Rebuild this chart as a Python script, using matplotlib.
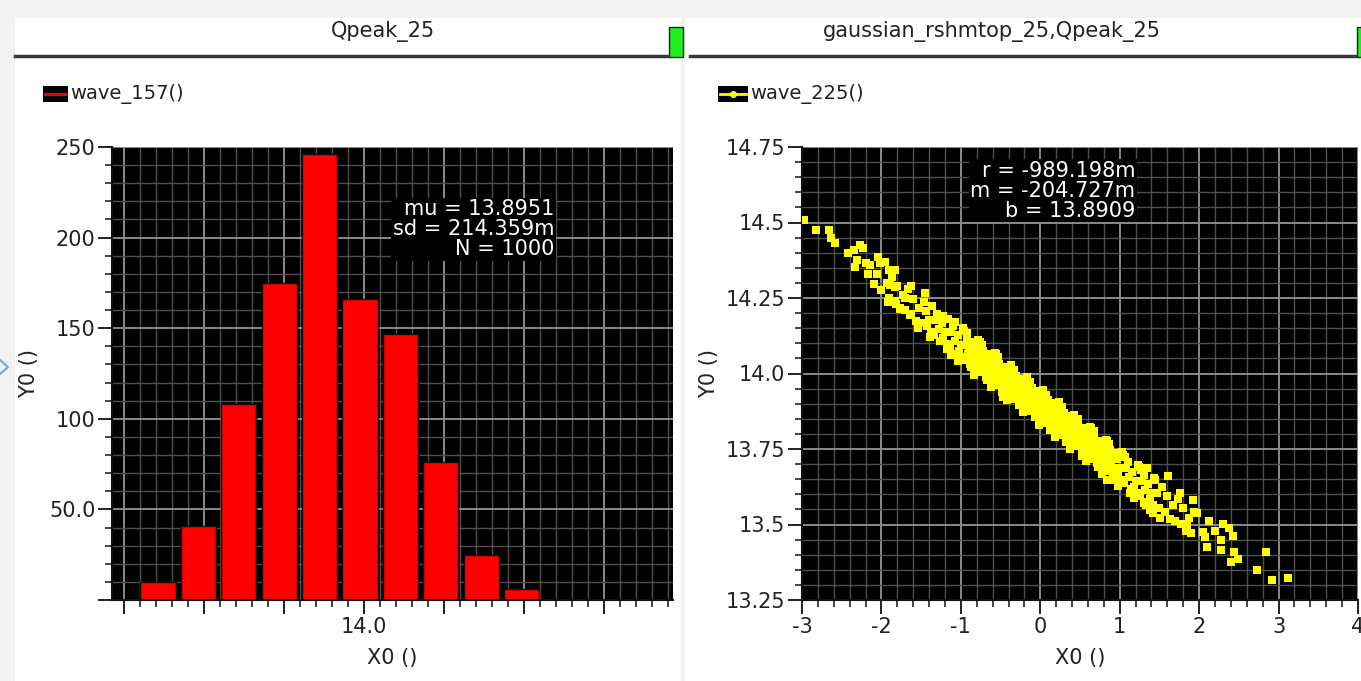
import matplotlib
matplotlib.use('Agg')
import matplotlib.pyplot as plt
from matplotlib.patches import Rectangle
from matplotlib.lines import Line2D
from matplotlib.ticker import MultipleLocator, FixedLocator

# histogram data (left panel)
hist_centers = [13.485, 13.586, 13.687, 13.788, 13.889, 13.990, 14.091, 14.192, 14.293, 14.394]
hist_counts = [10, 41, 108, 175, 246, 166, 147, 76, 25, 6]
hist_yticks = [0, 50, 100, 150, 200, 250]
hist_yticklabels = ['', '50.0', '100', '150', '200', '250']
hist_xticks = [13.4, 13.6, 13.8, 14.0, 14.2, 14.4, 14.6]
hist_xticklabels = ['', '', '', '14.0', '', '', '']
hist_stats = "mu = 13.8951\nsd = 214.359m\nN = 1000"

# scatter data (right panel), one line per x slice
scatter_x = [
    -2.97, -2.83, -2.66, -2.63, -2.58, -2.42, -2.35, -2.27, -2.23, -2.31, -2.33, -2.19,
    -2.14, -2.04, -2.02, -1.96, -2.17, -2.05, -2.09, -2.00, -1.91, -1.83, -1.87, -1.89,
    -1.83, -1.63, -1.92, -1.82, -1.77, -1.70, -1.64, -1.45, -1.54, -1.39, -0.465,
    -1.933, -1.900, -1.867,
    -1.833, -1.800, -1.767,
    -1.733, -1.700, -1.667,
    -1.633, -1.600, -1.567,
    -1.533, -1.500, -1.467,
    -1.44, -1.42, -1.40, -1.38, -1.36,
    -1.34, -1.32, -1.30, -1.28, -1.26,
    -1.24, -1.22, -1.20, -1.18, -1.16,
    -1.14, -1.12, -1.10, -1.08, -1.06,
    -1.04, -1.02, -1.00, -0.98, -0.96,
    -0.944, -0.931, -0.919, -0.906, -0.894, -0.881, -0.869, -0.856,
    -0.844, -0.831, -0.819, -0.806, -0.794, -0.781, -0.769, -0.756,
    -0.744, -0.731, -0.719, -0.706, -0.694, -0.681, -0.669, -0.656,
    -0.644, -0.631, -0.619, -0.606, -0.594, -0.581, -0.569, -0.556,
    -0.544, -0.531, -0.519, -0.506, -0.494, -0.481, -0.469, -0.456,
    -0.445, -0.435, -0.425, -0.415, -0.405, -0.395, -0.385, -0.375, -0.365, -0.355,
    -0.345, -0.335, -0.325, -0.315, -0.305, -0.295, -0.285, -0.275, -0.265, -0.255,
    -0.245, -0.235, -0.225, -0.215, -0.205, -0.195, -0.185, -0.175, -0.165, -0.155,
    -0.145, -0.135, -0.125, -0.115, -0.105, -0.095, -0.085, -0.075, -0.065, -0.055,
    -0.045, -0.035, -0.025, -0.015, -0.005, 0.005, 0.015, 0.025, 0.035, 0.045,
    0.055, 0.065, 0.075, 0.085, 0.095, 0.105, 0.115, 0.125, 0.135, 0.145,
    0.155, 0.165, 0.175, 0.185, 0.195, 0.205, 0.215, 0.225, 0.235, 0.245,
    0.255, 0.265, 0.275, 0.285, 0.295, 0.305, 0.315, 0.325, 0.335, 0.345,
    0.355, 0.365, 0.375, 0.385, 0.395, 0.405, 0.415, 0.425, 0.435, 0.445,
    0.456, 0.469, 0.481, 0.494, 0.506, 0.519, 0.531, 0.544,
    0.556, 0.569, 0.581, 0.594, 0.606, 0.619, 0.631, 0.644,
    0.656, 0.669, 0.681, 0.694, 0.706, 0.719, 0.731, 0.744,
    0.756, 0.769, 0.781, 0.794, 0.806, 0.819, 0.831, 0.844,
    0.856, 0.869, 0.881, 0.894, 0.906, 0.919, 0.931, 0.944,
    0.96, 0.98, 1.00, 1.02, 1.04,
    1.06, 1.08, 1.10, 1.12, 1.14,
    1.16, 1.18, 1.20, 1.22, 1.24,
    1.26, 1.28, 1.30, 1.32, 1.34,
    1.36, 1.38, 1.40, 1.42, 1.44,
    1.467, 1.500, 1.533,
    1.567, 1.600, 1.633,
    1.667, 1.700, 1.733,
    1.767, 1.800, 1.833,
    1.867, 1.900, 1.933,
    1.61, 2.84, 2.73, 2.92, 3.12, 2.44, 2.49, 2.40, 2.27, 2.27, 2.10, 2.07, 2.05, 2.42,
    2.37, 2.30, 2.20, 2.12, 1.97, 1.85, 1.92, 1.76, 1.42, 1.51, 1.30, 1.01, 0.84, 1.34,
    # edge points of the band
    -1.23, -1.17, -1.08, -1.13, -0.97, -1.03, -0.92, -0.87, -0.78, -0.83, -0.73, -0.67,
    -0.57, -0.62, -0.53, -0.48, -0.37, -0.42, -0.33, -0.27, -0.17, -0.22, -0.13, -0.07,
    0.03, -0.02, 0.07, 0.12, 0.23, 0.18, 0.27, 0.33, 0.43, 0.38, 0.47, 0.53,
    0.63, 0.58, 0.67, 0.73, 0.83, 0.78, 0.87, 0.93, 1.03, 0.98, 1.07, 1.13,
    1.23, 1.18, 1.27, 1.33, 1.43, 1.38,
]
scatter_y = [
    14.507, 14.474, 14.474, 14.448, 14.433, 14.398, 14.409, 14.425, 14.415, 14.376, 14.354, 14.365,
    14.359, 14.387, 14.365, 14.370, 14.329, 14.329, 14.295, 14.276, 14.343, 14.343, 14.320, 14.293,
    14.287, 14.290, 14.236, 14.230, 14.216, 14.249, 14.194, 14.266, 14.150, 14.122, 13.923,
    14.300, 14.250, 14.320,
    14.239, 14.289, 14.214,
    14.259, 14.209, 14.279,
    14.198, 14.248, 14.173,
    14.218, 14.168, 14.238,
    14.208, 14.158, 14.178, 14.138, 14.223,
    14.127, 14.177, 14.197, 14.147, 14.107,
    14.167, 14.117, 14.137, 14.097, 14.182,
    14.086, 14.136, 14.156, 14.106, 14.066,
    14.126, 14.076, 14.096, 14.056, 14.141,
    14.095, 14.045, 14.115, 14.065, 14.085, 14.030, 14.105, 14.055,
    14.035, 14.090, 14.015, 14.070, 14.050, 14.080, 14.025, 14.105,
    14.054, 14.004, 14.074, 14.024, 14.044, 13.989, 14.064, 14.014,
    13.994, 14.049, 13.974, 14.029, 14.009, 14.039, 13.984, 14.064,
    14.013, 13.963, 14.033, 13.983, 14.003, 13.948, 14.023, 13.973,
    14.003, 13.953, 13.983, 13.933, 13.993, 13.963, 14.018, 13.943, 13.973, 13.988,
    13.937, 13.977, 13.917, 13.957, 13.992, 13.927, 13.967, 13.947, 13.982, 13.907,
    13.962, 13.912, 13.942, 13.892, 13.952, 13.922, 13.977, 13.902, 13.932, 13.947,
    13.896, 13.936, 13.876, 13.916, 13.951, 13.886, 13.926, 13.906, 13.941, 13.866,
    13.921, 13.871, 13.901, 13.851, 13.911, 13.881, 13.936, 13.861, 13.891, 13.906,
    13.856, 13.896, 13.836, 13.876, 13.911, 13.846, 13.886, 13.866, 13.901, 13.826,
    13.880, 13.830, 13.860, 13.810, 13.870, 13.840, 13.895, 13.820, 13.850, 13.865,
    13.815, 13.855, 13.795, 13.835, 13.870, 13.805, 13.845, 13.825, 13.860, 13.785,
    13.839, 13.789, 13.819, 13.769, 13.829, 13.799, 13.854, 13.779, 13.809, 13.824,
    13.809, 13.759, 13.829, 13.779, 13.799, 13.744, 13.819, 13.769,
    13.748, 13.803, 13.728, 13.783, 13.763, 13.793, 13.738, 13.818,
    13.768, 13.718, 13.788, 13.738, 13.758, 13.703, 13.778, 13.728,
    13.707, 13.762, 13.687, 13.742, 13.722, 13.752, 13.697, 13.777,
    13.727, 13.677, 13.747, 13.697, 13.717, 13.662, 13.737, 13.687,
    13.716, 13.666, 13.686, 13.646, 13.731,
    13.636, 13.686, 13.706, 13.656, 13.616,
    13.675, 13.625, 13.645, 13.605, 13.690,
    13.595, 13.645, 13.665, 13.615, 13.575,
    13.634, 13.584, 13.604, 13.564, 13.649,
    13.604, 13.554, 13.624,
    13.543, 13.593, 13.518,
    13.563, 13.513, 13.583,
    13.503, 13.553, 13.478,
    13.522, 13.472, 13.542,
    13.662, 13.410, 13.349, 13.316, 13.324, 13.410, 13.385, 13.376, 13.449, 13.416, 13.426, 13.460, 13.476, 13.462,
    13.487, 13.502, 13.480, 13.510, 13.539, 13.498, 13.581, 13.603, 13.537, 13.522, 13.570, 13.636, 13.647, 13.686,
    # edge points of the band
    14.190, 14.082, 14.170, 14.060, 14.152, 14.040, 14.135, 14.020, 14.112, 13.995, 14.095, 13.978,
    14.068, 13.955, 14.055, 13.938, 14.028, 13.912, 14.012, 13.895, 13.988, 13.872, 13.972, 13.855,
    13.945, 13.830, 13.930, 13.812, 13.905, 13.790, 13.890, 13.772, 13.862, 13.750, 13.848, 13.728,
    13.822, 13.710, 13.808, 13.690, 13.780, 13.668, 13.765, 13.648, 13.740, 13.628, 13.725, 13.605,
    13.698, 13.588, 13.682, 13.565, 13.655, 13.548,
]
scatter_yticks = [13.25, 13.5, 13.75, 14.0, 14.25, 14.5, 14.75]
scatter_yticklabels = ['13.25', '13.5', '13.75', '14.0', '14.25', '14.5', '14.75']
scatter_xticks = [-3, -2, -1, 0, 1, 2, 3, 4]
scatter_stats = "r = -989.198m\nm = -204.727m\nb = 13.8909"

W, H = 1361, 681
fig = plt.figure(figsize=(W / 100, H / 100), dpi=100)
fig.patch.set_facecolor('#f2f2f2')
txt = '#222222'


def fx(px):
    return px / W


def fy(py):
    return 1 - py / H


def box(x0, y0, x1, y1, z=2, **kw):
    fig.add_artist(Rectangle((fx(x0), fy(y1)), (x1 - x0) / W, (y1 - y0) / H,
                             transform=fig.transFigure, zorder=z, **kw))


def hline(x0, x1, y, **kw):
    fig.add_artist(Line2D([fx(x0), fx(x1)], [fy(y), fy(y)], transform=fig.transFigure,
                          zorder=3, **kw))


# panel backgrounds, title bars
box(15, 18, 681, 681, z=-10, fc='white', ec='none')
box(685, 18, 1361, 681, z=-10, fc='white', ec='none')
hline(15, 668, 56, color='#3a3a3a', lw=2.5)
hline(690, 1355, 56, color='#3a3a3a', lw=2.5)
box(669, 27, 683, 57, fc='#22ee22', ec='#222222', lw=1)
box(1357, 27, 1365, 57, fc='#22ee22', ec='#222222', lw=1)
fig.text(fx(383), fy(32), 'Qpeak_25', ha='center', va='center', fontsize=15, color=txt)
fig.text(fx(992), fy(32), 'gaussian_rshmtop_25,Qpeak_25', ha='center', va='center',
         fontsize=15, color=txt)

# little arrow at the far left
fig.add_artist(Line2D([fx(0), fx(8), fx(0)], [fy(360), fy(367), fy(374)],
                      transform=fig.transFigure, color='#6fa8dc', lw=1.5))

# legends
box(43, 86, 68, 102, fc='black', ec='none')
hline(45, 66, 94, color='#ff0000', lw=2)
fig.text(fx(70), fy(94), 'wave_157()', ha='left', va='center', fontsize=14, color=txt)
box(718, 86, 748, 102, fc='black', ec='none')
hline(720, 746, 94, color='#ffff00', lw=2)
fig.add_artist(Line2D([fx(733)], [fy(94)], transform=fig.transFigure, marker='o',
                      ms=4, color='#ffff00', zorder=4))
fig.text(fx(750), fy(94), 'wave_225()', ha='left', va='center', fontsize=14, color=txt)


def style(ax):
    ax.set_facecolor('black')
    ax.set_axisbelow(True)
    ax.grid(which='minor', color='#505050', lw=1.0)
    ax.grid(which='major', color='#8a8a8a', lw=1.4)
    for s in ['top', 'right']:
        ax.spines[s].set_visible(False)
    for s in ['left', 'bottom']:
        ax.spines[s].set_color('#111111')
        ax.spines[s].set_linewidth(1.5)
    ax.tick_params(which='major', direction='out', length=10, width=1.3, color='#111111',
                   labelsize=15, labelcolor=txt, pad=2)
    ax.tick_params(which='minor', direction='out', length=5, width=1.1, color='#111111')


# left: histogram
ax1 = fig.add_axes([fx(112), fy(600), (673 - 112) / W, (600 - 147) / H])
style(ax1)
ax1.bar(hist_centers, hist_counts, width=0.088, color='#ff0000', edgecolor='#111111', lw=1)
ax1.set_xlim(13.37, 14.7725)
ax1.set_ylim(0, 250)
ax1.xaxis.set_major_locator(FixedLocator(hist_xticks))
ax1.set_xticklabels(hist_xticklabels)
ax1.xaxis.set_minor_locator(MultipleLocator(0.04))
ax1.yaxis.set_major_locator(FixedLocator(hist_yticks))
ax1.set_yticklabels(hist_yticklabels)
ax1.yaxis.set_minor_locator(MultipleLocator(10))
ax1.set_xlabel('X0 ()', fontsize=15, color=txt)
ax1.set_ylabel('Y0 ()', fontsize=15, color=txt)
ax1.xaxis.set_label_coords(0.5, -0.105)
ax1.yaxis.set_label_coords(-0.13, 0.5)
ax1.text(0.788, 0.885, hist_stats, transform=ax1.transAxes, ha='right', va='top',
         fontsize=15, color='white', linespacing=1.0,
         bbox=dict(fc='black', ec='none', pad=1))

# right: scatter
ax2 = fig.add_axes([fx(802), fy(600), (1358 - 802) / W, (600 - 147) / H])
style(ax2)
ax2.scatter(scatter_x, scatter_y, s=30, marker='s', c='#ffff00', linewidths=0, zorder=3)
ax2.set_xlim(-3, 4)
ax2.set_ylim(13.25, 14.75)
ax2.xaxis.set_major_locator(FixedLocator(scatter_xticks))
ax2.set_xticklabels([str(v) for v in scatter_xticks])
ax2.xaxis.set_minor_locator(MultipleLocator(0.2))
ax2.yaxis.set_major_locator(FixedLocator(scatter_yticks))
ax2.set_yticklabels(scatter_yticklabels)
ax2.yaxis.set_minor_locator(MultipleLocator(0.05))
ax2.set_xlabel('X0 ()', fontsize=15, color=txt)
ax2.set_ylabel('Y0 ()', fontsize=15, color=txt)
ax2.xaxis.set_label_coords(0.5, -0.105)
ax2.yaxis.set_label_coords(-0.15, 0.5)
ax2.text(0.599, 0.97, scatter_stats, transform=ax2.transAxes, ha='right', va='top',
         fontsize=15, color='white', linespacing=1.0,
         bbox=dict(fc='black', ec='none', pad=1))

fig.savefig('out.png', dpi=100, facecolor=fig.get_facecolor())
